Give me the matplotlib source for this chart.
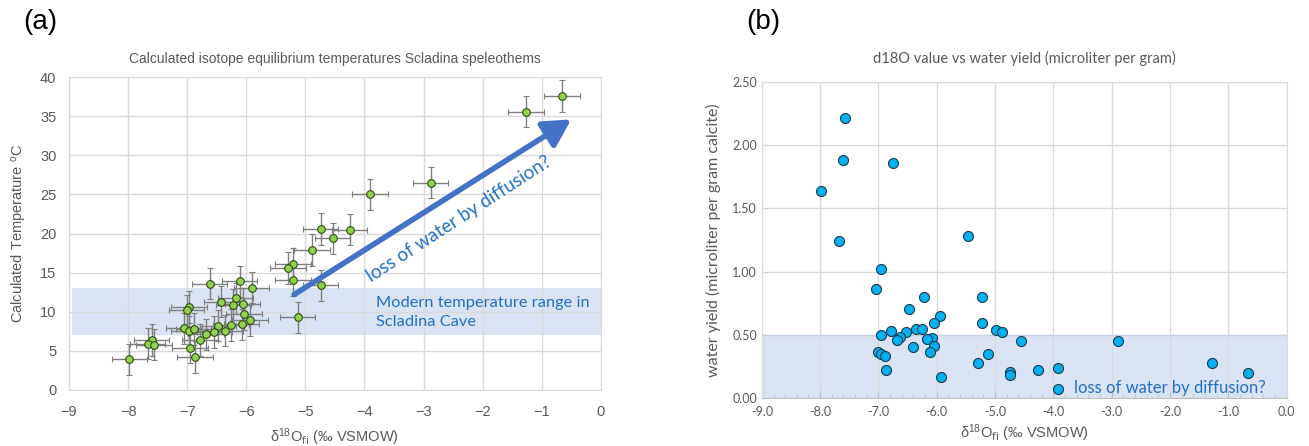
#!/usr/bin/env python3
"""Scladina speleothem fluid inclusions: temperature and water yield vs d18O."""

import matplotlib

matplotlib.use("Agg")
import matplotlib.pyplot as plt
from matplotlib.ticker import FormatStrFormatter, MultipleLocator

# panel (a): d18O of fluid inclusion water vs calculated temperature
temp_d18o = [
    -0.66, -1.27, -2.88, -3.91, -4.74, -4.25, -4.54, -4.89, -5.21, -5.29,
    -5.21, -4.74, -5.13, -6.62, -6.11, -5.91, -6.42, -6.18, -6.22, -6.06,
    -6.97, -7.01, -6.04, -7.05, -6.97, -6.89, -6.48, -6.26, -6.08, -5.94,
    -6.36, -6.54, -6.68, -6.78, -6.95, -6.87, -7.60, -7.67, -7.56, -7.98,
]
temp_c = [
    37.6, 35.6, 26.5, 25.0, 20.6, 20.5, 19.4, 17.9, 16.1, 15.6,
    14.0, 13.4, 9.3, 13.6, 13.9, 13.1, 11.3, 11.7, 10.9, 11.0,
    10.6, 10.2, 9.7, 7.9, 7.5, 7.8, 8.2, 8.3, 8.4, 8.9,
    7.6, 7.4, 7.1, 6.4, 5.4, 4.2, 6.4, 5.9, 5.8, 3.9,
]
temp_d18o_err = 0.3
temp_c_err = 2.0
modern_range = (7.0, 13.0)
trend_start = (-5.19, 12.2)
trend_end = (-0.5, 34.6)

# panel (b): d18O vs water yield (microliter per gram calcite)
yield_d18o = [
    -7.57, -7.61, -6.75, -7.98, -7.68, -5.46, -6.96, -7.05, -6.22, -5.22,
    -6.48, -5.95, -6.05, -5.22, -4.98, -4.89, -6.36, -6.26, -6.53, -6.78,
    -6.96, -6.63, -6.69, -6.09, -6.17, -6.05, -6.41, -6.11, -7.00, -6.95,
    -6.89, -6.87, -5.92, -5.13, -5.30, -4.55, -4.74, -4.74, -4.26, -3.92,
    -3.92, -2.90, -1.29, -0.66,
]
water_yield = [
    2.215, 1.885, 1.856, 1.634, 1.243, 1.278, 1.022, 0.863, 0.795, 0.795,
    0.702, 0.644, 0.594, 0.594, 0.539, 0.520, 0.546, 0.546, 0.523, 0.531,
    0.496, 0.483, 0.457, 0.473, 0.462, 0.414, 0.399, 0.364, 0.364, 0.350,
    0.330, 0.222, 0.166, 0.346, 0.277, 0.446, 0.203, 0.177, 0.224, 0.240,
    0.069, 0.451, 0.272, 0.198,
]
low_yield_limit = 0.5

ANNOT_BLUE = "#2272C3"
GRID = "#D9D9D9"
TICK_GRAY = "#595959"
CALIBRI_LIKE = ["Lato", "DejaVu Sans"]
ARIAL_LIKE = ["Liberation Sans", "DejaVu Sans"]
XLABEL = r"$\delta^{18}$O$_{\mathrm{fi}}$ (‰ VSMOW)"


def _style_axes(ax) -> None:
    ax.grid(True, color=GRID, linewidth=1)
    ax.set_axisbelow(True)
    for spine in ax.spines.values():
        spine.set_color(GRID)
    ax.tick_params(length=0, colors=TICK_GRAY)


def draw_temperature(fig) -> None:
    ax = fig.add_axes([0.0527, 0.1256, 0.4063, 0.7014])
    _style_axes(ax)
    ax.axhspan(*modern_range, xmin=0.006, color="#DAE3F3", zorder=0.5, lw=0)
    ax.errorbar(
        temp_d18o, temp_c, xerr=temp_d18o_err, yerr=temp_c_err,
        fmt="o", ms=5.5, mfc="#92D050", mec="#2F4A14", mew=0.8,
        ecolor="#7F7F7F", elinewidth=1, capsize=2, capthick=1, zorder=3,
    )
    ax.annotate(
        "", xy=trend_end, xytext=trend_start,
        arrowprops=dict(arrowstyle="-|>,head_length=0.55,head_width=0.3", lw=4,
                        color="#4472C4", mutation_scale=30, shrinkA=0, shrinkB=0),
        zorder=4,
    )
    ax.text(-2.4, 21.9, "loss of water by diffusion?", rotation=33, color=ANNOT_BLUE,
            fontsize=13.5, family=CALIBRI_LIKE, ha="center", va="center", rotation_mode="anchor")
    ax.text(-3.8, 9.9, "Modern temperature range in\nScladina Cave", color=ANNOT_BLUE,
            fontsize=11.8, family=CALIBRI_LIKE, ha="left", va="center", linespacing=1.5)

    ax.set_xlim(-9, 0)
    ax.set_ylim(0, 40)
    ax.xaxis.set_major_locator(MultipleLocator(1))
    ax.yaxis.set_major_locator(MultipleLocator(5))
    ax.tick_params(axis="x", pad=11)
    ax.tick_params(axis="y", pad=9)
    for label in ax.get_xticklabels() + ax.get_yticklabels():
        label.set_family(ARIAL_LIKE)
        label.set_fontsize(10.5)
    ax.set_title("Calculated isotope equilibrium temperatures Scladina speleothems",
                 fontsize=10, color=TICK_GRAY, family=ARIAL_LIKE, pad=10)
    ax.set_xlabel(XLABEL, fontsize=10.5, color=TICK_GRAY, family=ARIAL_LIKE, labelpad=5)
    ax.set_ylabel(r"Calculated Temperature $^{o}$C", fontsize=10.5, color=TICK_GRAY,
                  family=ARIAL_LIKE, labelpad=8)
    fig.text(0.018, 0.95, "(a)", fontsize=20, family=ARIAL_LIKE, va="center")


def draw_water_yield(fig) -> None:
    ax = fig.add_axes([0.582, 0.108, 0.401, 0.708])
    _style_axes(ax)
    ax.axhspan(0, low_yield_limit, color="#DAE3F3", zorder=0.5, lw=0)
    ax.axhline(low_yield_limit, color="#C5D0E3", lw=1, zorder=0.6)
    ax.scatter(yield_d18o, water_yield, s=52, c="#00B0F0", edgecolors="#1F3A4D",
               linewidths=0.8, zorder=3)
    ax.text(-3.65, 0.08, "loss of water by diffusion?", color=ANNOT_BLUE, fontsize=12,
            family=CALIBRI_LIKE, ha="left", va="center")

    ax.set_xlim(-9, 0)
    ax.set_ylim(0, 2.5)
    ax.xaxis.set_major_locator(MultipleLocator(1))
    ax.xaxis.set_minor_locator(MultipleLocator(0.2))
    ax.yaxis.set_major_locator(MultipleLocator(0.5))
    ax.xaxis.set_major_formatter(FormatStrFormatter("%.1f"))
    ax.yaxis.set_major_formatter(FormatStrFormatter("%.2f"))
    ax.spines["bottom"].set_color("#BFBFBF")
    ax.tick_params(axis="x", which="major", direction="in", length=5, color="#BFBFBF", pad=6)
    ax.tick_params(axis="x", which="minor", direction="in", length=3, color="#BFBFBF")
    for label in ax.get_xticklabels() + ax.get_yticklabels():
        label.set_family(CALIBRI_LIKE)
        label.set_fontsize(9)
    ax.set_title("d18O value vs water yield (microliter per gram)", fontsize=10.5,
                 color=TICK_GRAY, family=CALIBRI_LIKE, pad=14)
    ax.set_xlabel(XLABEL, fontsize=10.5, color=TICK_GRAY, family=ARIAL_LIKE, labelpad=3)
    ax.set_ylabel("water yield (microliter per gram calcite)", fontsize=11.5,
                  color=TICK_GRAY, family=CALIBRI_LIKE, labelpad=8)
    fig.text(0.57, 0.95, "(b)", fontsize=20, family=ARIAL_LIKE, va="center")


def main() -> None:
    plt.rcParams["mathtext.default"] = "regular"
    fig = plt.figure(figsize=(13.09, 4.46), dpi=100)
    draw_temperature(fig)
    draw_water_yield(fig)
    fig.savefig("out.png", dpi=100, facecolor="white")
    plt.close(fig)


if __name__ == "__main__":
    main()
